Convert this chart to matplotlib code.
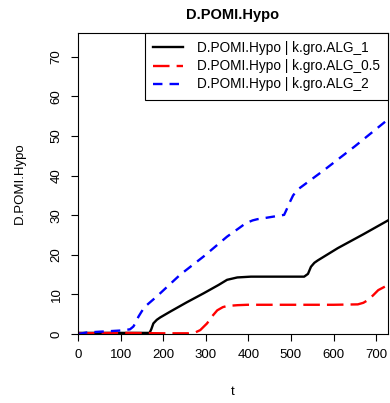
import matplotlib.pyplot as plt

plt.rcParams['font.family'] = ['Liberation Sans', 'DejaVu Sans']

# values
t_alg1 = [0, 100, 168, 172, 177, 185, 193, 217, 255, 295, 330, 350, 374, 406, 460, 531, 540, 547, 555, 563, 610, 670, 728]
alg1 = [0.3, 0.3, 0.3, 1.2, 2.7, 3.6, 4.2, 5.7, 8.0, 10.3, 12.4, 13.7, 14.3, 14.5, 14.5, 14.5, 15.2, 17.0, 18.0, 18.6, 21.7, 25.2, 28.7]

t_alg05 = [0, 100, 200, 260, 275, 287, 303, 315, 327, 340, 350, 375, 398, 500, 600, 657, 670, 681, 693, 705, 728]
alg05 = [0.2, 0.3, 0.2, 0.2, 0.4, 1.0, 2.7, 4.5, 6.0, 6.8, 7.1, 7.3, 7.4, 7.4, 7.4, 7.5, 7.9, 8.6, 9.8, 11.1, 12.4]

t_alg2 = [0, 20, 51, 100, 122, 130, 136, 142, 150, 157, 185, 240, 295, 350, 380, 394, 410, 421, 450, 484, 490, 496, 505, 516, 579, 650, 728]
alg2 = [0.0, 0.4, 0.6, 0.9, 1.2, 1.9, 3.0, 4.4, 5.8, 6.9, 9.5, 15.0, 19.6, 24.6, 26.9, 28.0, 28.7, 29.0, 29.5, 30.1, 31.5, 33.0, 35.0, 36.5, 41.5, 47.4, 54.2]

x_ticks = [0, 100, 200, 300, 400, 500, 600, 700]
y_ticks = [0, 10, 20, 30, 40, 50, 60, 70]

fig = plt.figure(figsize=(3.9, 4.03), dpi=100)
ax = fig.add_axes([0.2, 0.171, 0.795, 0.747])

ax.plot(t_alg1, alg1, color='black', lw=1.7, label='D.POMI.Hypo | k.gro.ALG_1')
ax.plot(t_alg05, alg05, color='red', lw=1.7, dashes=(7, 3), label='D.POMI.Hypo | k.gro.ALG_0.5')
ax.plot(t_alg2, alg2, color='blue', lw=1.7, dashes=(4, 3), label='D.POMI.Hypo | k.gro.ALG_2')

ax.set_xlim(0, 728)
ax.set_ylim(0, 76)
ax.set_xticks(x_ticks)
ax.set_yticks(y_ticks)
ax.tick_params(direction='out', length=5, width=0.8, labelsize=9.5, pad=6)
for lbl in ax.get_yticklabels():
    lbl.set_rotation(90)
    lbl.set_va('center')

ax.set_title('D.POMI.Hypo', fontsize=10.5, fontweight='bold', pad=10)
ax.set_xlabel('t', fontsize=9.5, labelpad=18)
ax.set_ylabel('D.POMI.Hypo', fontsize=9.5, labelpad=18)

leg = ax.legend(loc='upper right', fontsize=9.8, frameon=True, fancybox=False,
                edgecolor='black', framealpha=1, borderaxespad=0,
                handlelength=2.2, labelspacing=0.3, borderpad=0.6, handletextpad=1.0)
leg.get_frame().set_linewidth(0.8)

fig.savefig('out.png', dpi=100)
